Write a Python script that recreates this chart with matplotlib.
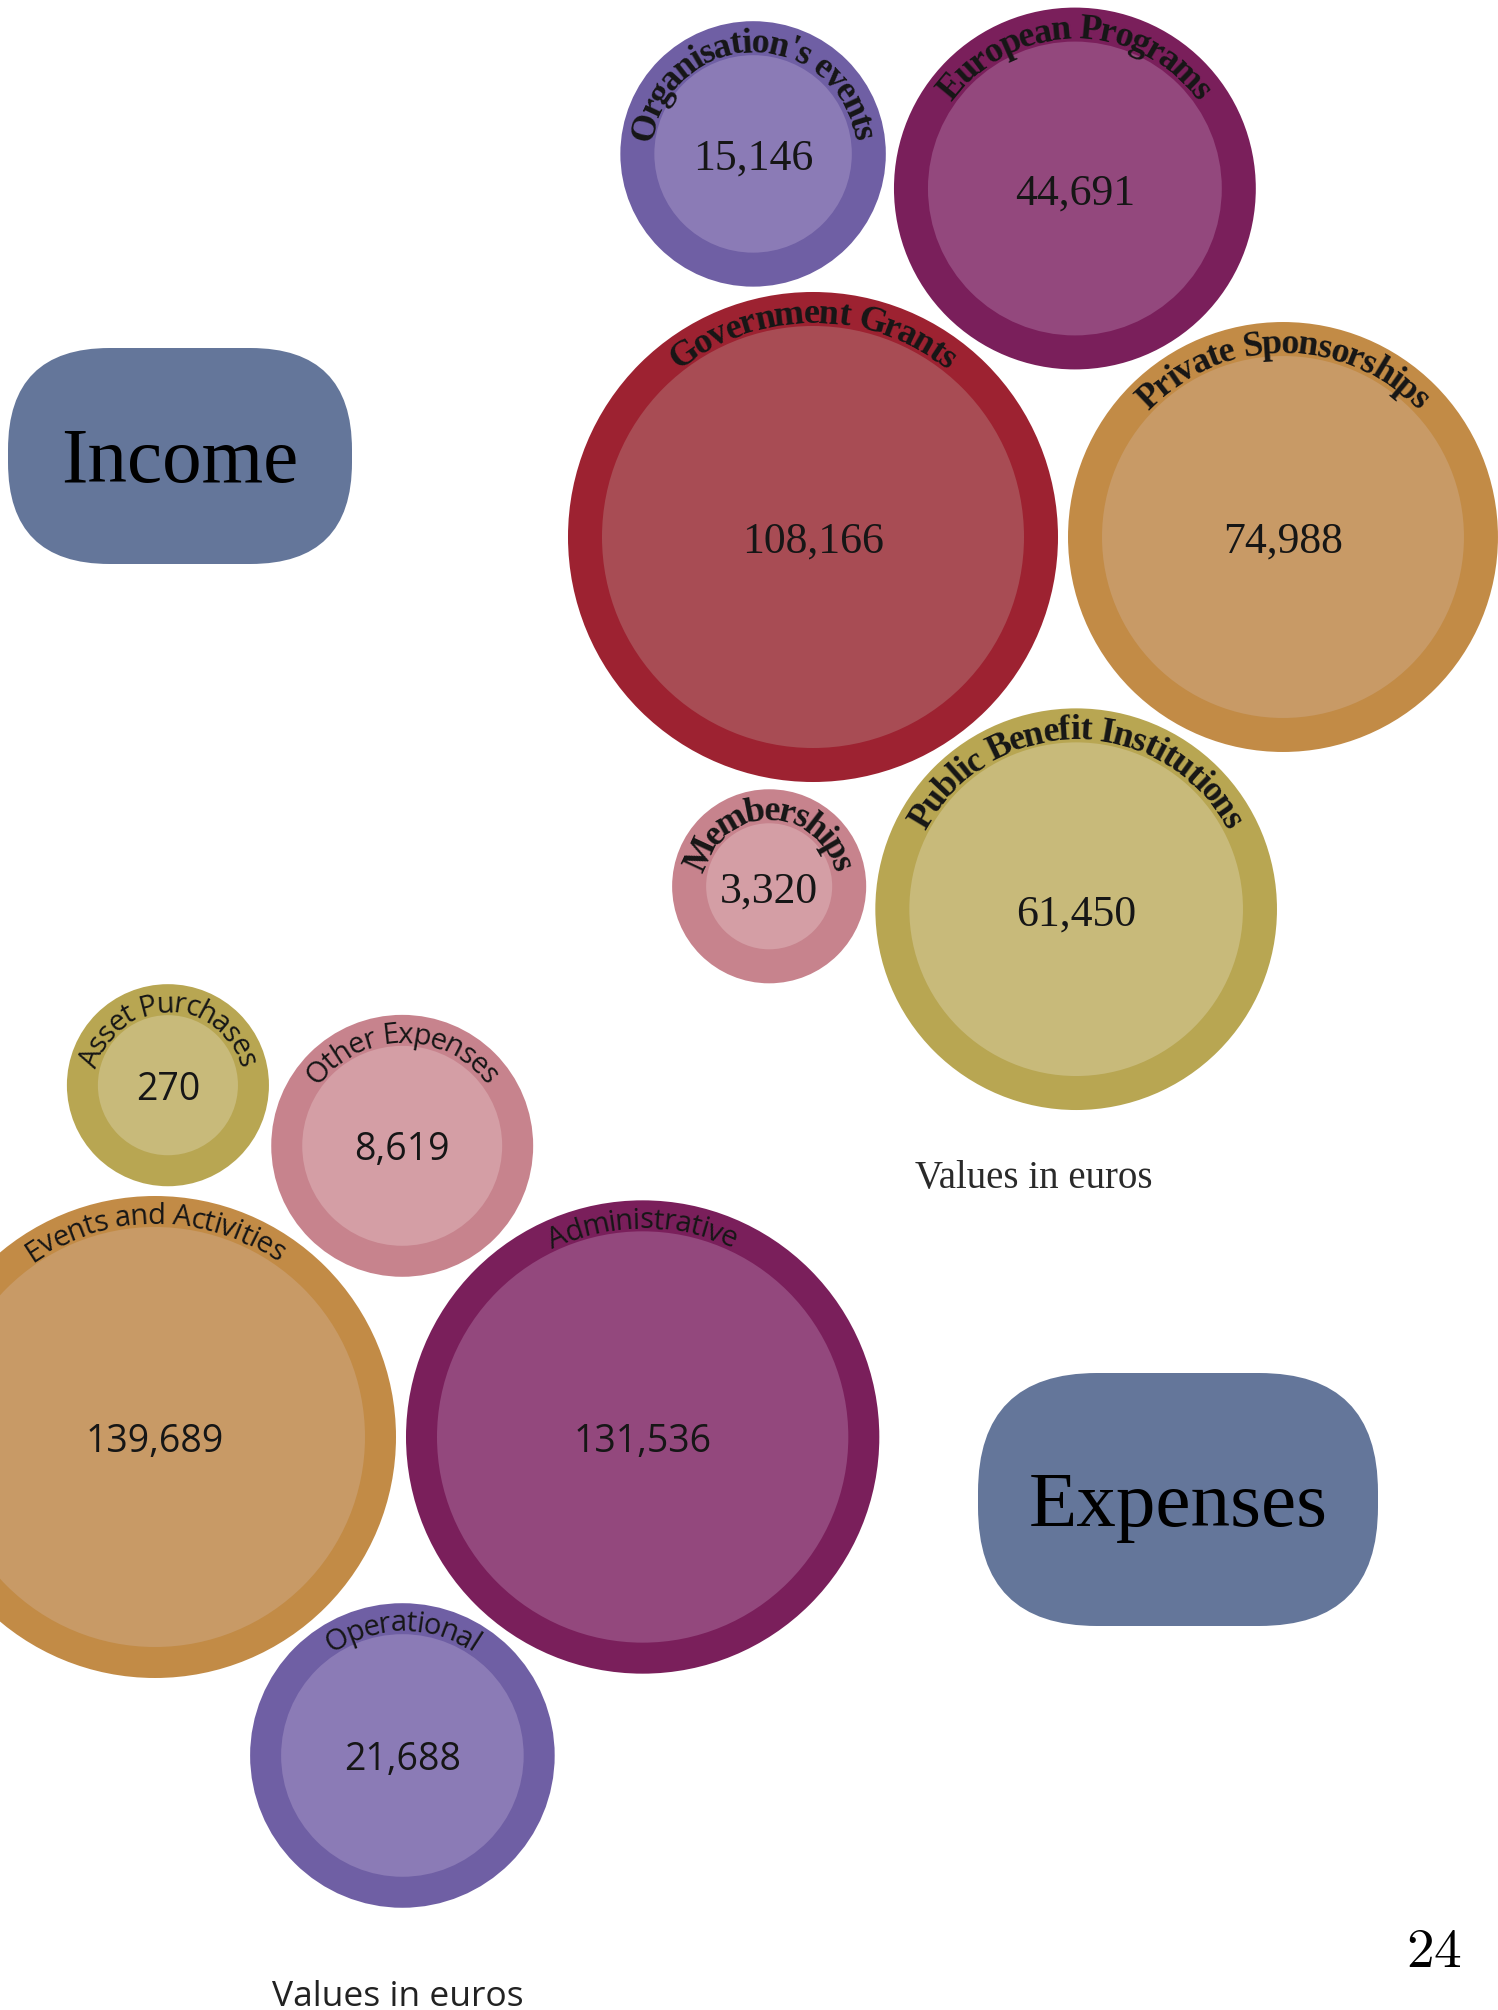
import numpy as np
import matplotlib
matplotlib.use("Agg")
import matplotlib.pyplot as plt
from matplotlib.patches import Circle, FancyBboxPatch
from matplotlib.font_manager import FontProperties, findfont, get_font

# ---------------- data ----------------
income_categories = ["Government Grants", "Private Sponsorships", "European Programs",
                     "Public Benefit Institutions", "Organisation's events", "Memberships"]
income_values = [108166, 74988, 44691, 61450, 15146, 3320]

expense_categories = ["Events and Activities", "Administrative", "Operational",
                      "Other Expenses", "Asset Purchases"]
expense_values = [139689, 131536, 21688, 8619, 270]

# ---------------- style ----------------
income_outer = ["#9d2231", "#c28b46", "#7a1f5b", "#b8a652", "#6f5fa4", "#c7838d"]
income_inner = ["#a84c54", "#c89a66", "#93487d", "#c8ba7a", "#8b7bb6", "#d49ea5"]
expense_outer = ["#c28b46", "#7a1f5b", "#6f5fa4", "#c7838d", "#b8a652"]
expense_inner = ["#c89a66", "#93487d", "#8b7bb6", "#d49ea5", "#c8ba7a"]
box_color = "#64769a"
text_color = "#161616"

# packing layout: (tangent to a, tangent to b, side)
income_pack = [None, None, (0, 1, -1), (0, 1, 1), (0, 2, -1), (0, 3, 1)]
expense_pack = [None, None, (0, 1, 1), (0, 1, -1), (0, 3, -1)]

W, H, DPI = 1498, 2010, 100
fig = plt.figure(figsize=(W / DPI, H / DPI), dpi=DPI)
ax = fig.add_axes([0, 0, 1, 1])
ax.set_xlim(0, W)
ax.set_ylim(H, 0)
ax.axis("off")


def size_scale(values, r0, k):
    return [r0 + k * np.sqrt(v) for v in values]


def pack(radii, spec, origin, gap):
    pos = [None] * len(radii)
    pos[0] = np.array(origin, dtype=float)
    pos[1] = pos[0] + np.array([radii[0] + radii[1] + gap, 0.0])
    for i in range(2, len(radii)):
        a, b, s = spec[i]
        ca, cb = pos[a], pos[b]
        da = radii[a] + radii[i] + gap
        db = radii[b] + radii[i] + gap
        d = np.linalg.norm(cb - ca)
        u = (cb - ca) / d
        aa = (da ** 2 - db ** 2 + d ** 2) / (2 * d)
        h = np.sqrt(max(da ** 2 - aa ** 2, 0))
        perp = np.array([-u[1], u[0]])
        pos[i] = ca + aa * u + s * h * perp
    return pos


def advances(text, fp, size):
    font = get_font(findfont(fp))
    font.set_size(size, DPI)
    out = []
    for ch in text:
        g = font.load_char(ord(ch))
        out.append(g.linearHoriAdvance / 65536.0)
    return out


def curved_text(cx, cy, r_base, text, fp, size, color, spacing=1.0):
    adv = [a * spacing for a in advances(text, fp, size)]
    em = size * DPI / 72.0
    r_sp = r_base + 0.25 * em
    L = sum(adv)
    th0 = np.pi / 2 + (L / 2) / r_sp
    s = 0.0
    for ch, a in zip(text, adv):
        th = th0 - (s + a / 2) / r_sp
        x = cx + r_base * np.cos(th)
        y = cy - r_base * np.sin(th)
        ax.text(x, y, ch, rotation=np.degrees(th) - 90, rotation_mode="anchor",
                ha="center", va="baseline", fontproperties=fp, color=color, zorder=5)
        s += a


def draw_group(cats, vals, radii, pos, outer, inner, ring, lab_fp, lab_size,
               spacing, val_fp, val_drop):
    for c, v, r, p, co, ci in zip(cats, vals, radii, pos, outer, inner):
        ax.add_patch(Circle(p, r, facecolor=co, edgecolor="none", zorder=2))
        ax.add_patch(Circle(p, r - ring, facecolor=ci, edgecolor="none", zorder=3))
        ax.text(p[0], p[1] + val_drop, f"{v:,}", ha="center", va="baseline",
                fontproperties=val_fp, color=text_color, zorder=5)
        curved_text(p[0], p[1], r - ring + 3, c, lab_fp, lab_size, text_color, spacing)


# ---------------- income ----------------
inc_r = size_scale(income_values, 65.6, 0.5455)
inc_pos = pack(inc_r, income_pack, (813, 537), 10)
inc_lab = FontProperties(family="Liberation Serif", weight="bold", size=26)
inc_val = FontProperties(family="Liberation Serif", size=31.5)
draw_group(income_categories, income_values, inc_r, inc_pos, income_outer,
           income_inner, 34, inc_lab, 26, 0.965, inc_val, 16)

# ---------------- expenses ----------------
exp_r = size_scale(expense_values, 94.6, 0.3917)
exp_pos = pack(exp_r, expense_pack, (155, 1437), 10)
exp_lab = FontProperties(family="Open Sans", size=21)
exp_val = FontProperties(family="Open Sans", size=27)
draw_group(expense_categories, expense_values, exp_r, exp_pos, expense_outer,
           expense_inner, 31, exp_lab, 21, 0.975, exp_val, 14.5)

# ---------------- labels ----------------
def pill(x0, y0, w, h, label):
    ax.add_patch(FancyBboxPatch((x0, y0), w, h,
                                boxstyle=f"round,pad=0,rounding_size={0.47 * h}",
                                facecolor=box_color, edgecolor="none", zorder=2))
    ax.text(x0 + w / 2, y0 + h / 2 + 26, label, ha="center", va="baseline",
            fontproperties=FontProperties(family="Liberation Serif", size=57),
            color="black", zorder=5)

pill(8, 348, 344, 216, "Income")
pill(978, 1373, 400, 253, "Expenses")

ax.text(1034, 1188, "Values in euros", ha="center", va="baseline",
        fontproperties=FontProperties(family="Liberation Serif", size=28), color="#2a2a2a")
ax.text(398, 2006, "Values in euros", ha="center", va="baseline",
        fontproperties=FontProperties(family="Open Sans", size=25.5), color="#222222")

plt.rcParams["mathtext.fontset"] = "cm"
ax.text(1434, 1967, r"$24$", ha="center", va="baseline", fontsize=40, color="black")

fig.savefig("out.png", dpi=DPI, facecolor="white")
